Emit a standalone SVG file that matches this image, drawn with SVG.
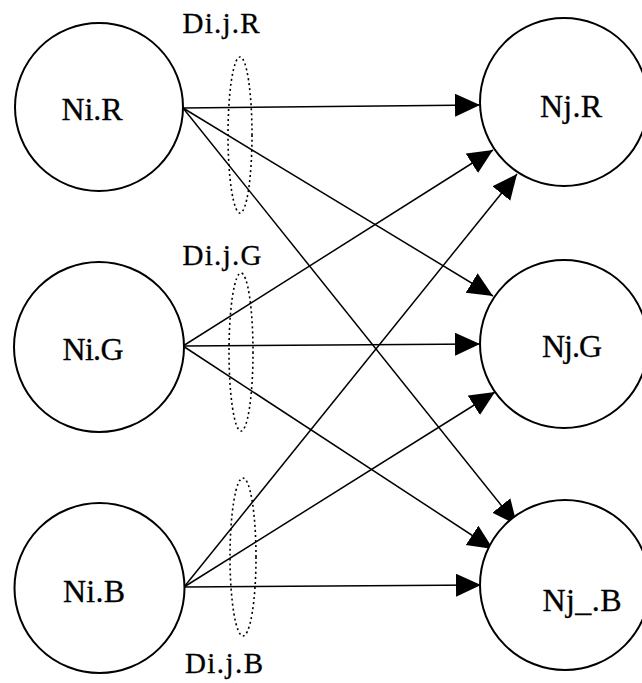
<svg xmlns="http://www.w3.org/2000/svg" width="642" height="683" viewBox="0 0 642 683">
<defs>
<marker id="ah" markerUnits="userSpaceOnUse" markerWidth="26" markerHeight="24" refX="25" refY="11.5" orient="auto">
<path d="M0,0 L25,11.5 L0,23 z" fill="#000"/>
</marker>
</defs>
<style>
.node circle{fill:#fff;stroke:#000;stroke-width:2}
.node text{font-family:"Liberation Serif","DejaVu Serif",serif;font-size:32px;fill:#000;stroke:#000;stroke-width:0.3;text-anchor:middle}
.lbl{font-family:"Liberation Serif","DejaVu Serif",serif;font-size:29px;fill:#000;stroke:#000;stroke-width:0.3;text-anchor:middle}
.dot{fill:none;stroke:#000;stroke-width:1.6;stroke-dasharray:2 3}
.edges line{stroke:#000;stroke-width:1.5;marker-end:url(#ah)}
</style>
<rect width="642" height="683" fill="#fff"/>
<g class="edges">
<line x1="183" y1="108" x2="480" y2="105"/>
<line x1="183" y1="108" x2="493" y2="296"/>
<line x1="183" y1="108" x2="517" y2="525"/>
<line x1="183" y1="346" x2="493" y2="150"/>
<line x1="183" y1="346" x2="480" y2="344"/>
<line x1="183" y1="346" x2="493" y2="549"/>
<line x1="184" y1="587" x2="517" y2="174"/>
<line x1="184" y1="587" x2="495" y2="392"/>
<line x1="184" y1="587" x2="481" y2="585"/>
</g>
<g id="Di_j_R"><ellipse class="dot" cx="240" cy="135" rx="12" ry="78"/><text class="lbl" x="221" y="33" textLength="77">Di.j.R</text></g>
<g id="Di_j_G"><ellipse class="dot" cx="241" cy="352" rx="12" ry="79"/><text class="lbl" x="222" y="265" textLength="79">Di.j.G</text></g>
<g id="Di_j_B"><ellipse class="dot" cx="243" cy="557" rx="13" ry="79"/><text class="lbl" x="224" y="673" textLength="78">Di.j.B</text></g>
<g id="Ni_R" class="node"><circle cx="99" cy="107" r="84"/><text x="92" y="120" textLength="61">Ni.R</text></g>
<g id="Ni_G" class="node"><circle cx="99" cy="347" r="85"/><text x="93" y="360" textLength="61">Ni.G</text></g>
<g id="Ni_B" class="node"><circle cx="99.5" cy="588" r="85"/><text x="94" y="602" textLength="62">Ni.B</text></g>
<g id="Nj_R" class="node"><circle cx="564" cy="102" r="84"/><text x="571" y="117" textLength="62">Nj.R</text></g>
<g id="Nj_G" class="node"><circle cx="564" cy="344" r="84"/><text x="572" y="357" textLength="60">Nj.G</text></g>
<g id="Nj_B" class="node"><circle cx="565" cy="585" r="85"/><text x="582" y="611" textLength="79">Nj_.B</text></g>
</svg>
